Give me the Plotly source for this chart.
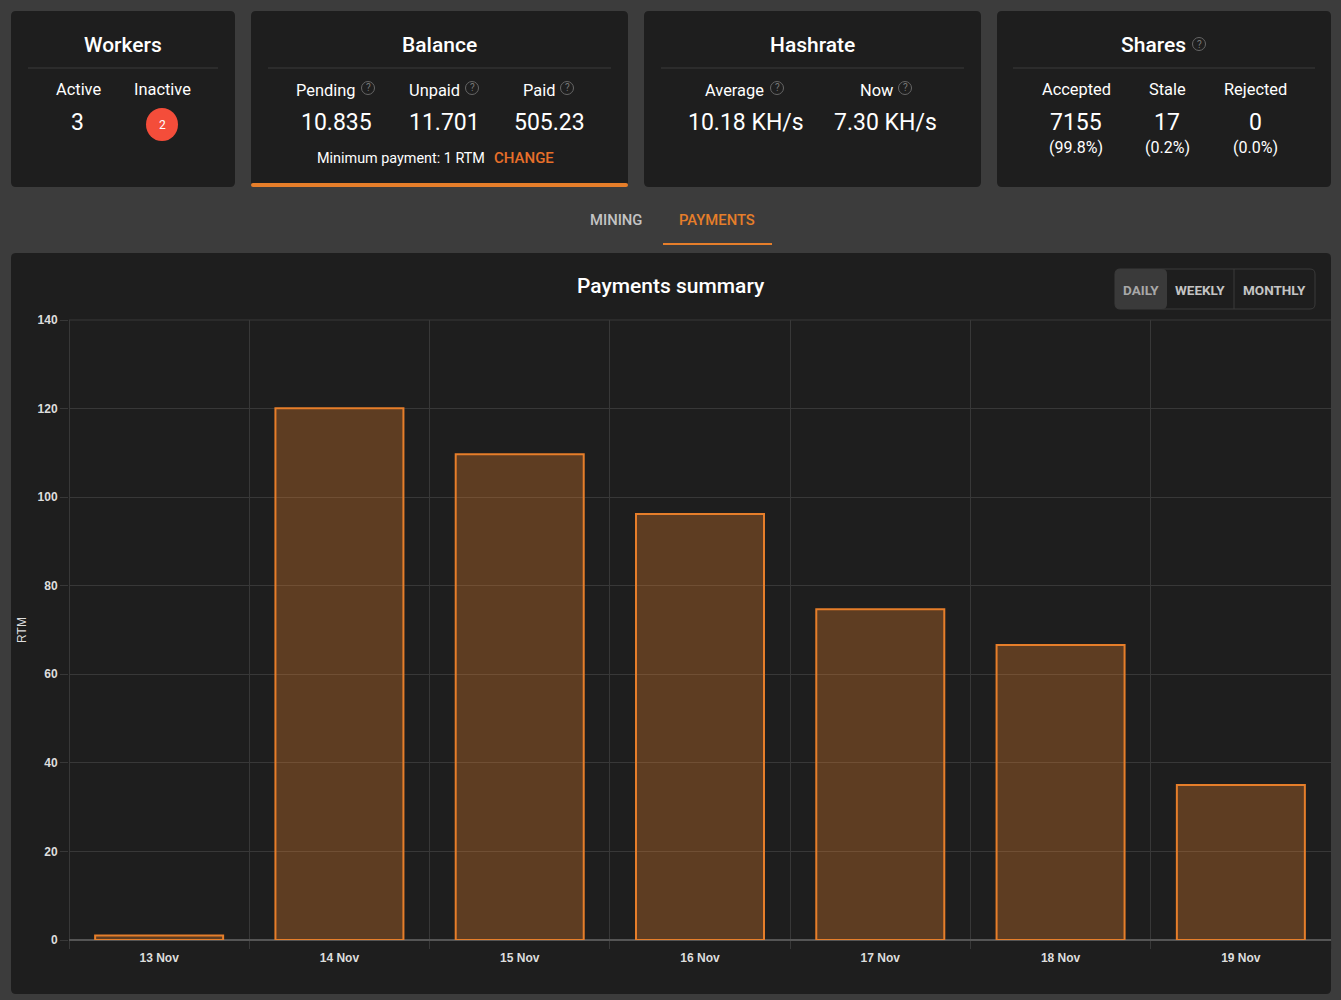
import plotly.graph_objects as go

W = 1341
H = 1000

days = ['13 Nov', '14 Nov', '15 Nov', '16 Nov', '17 Nov', '18 Nov', '19 Nov']
rtm = [1.0, 120.1, 109.7, 96.2, 74.7, 66.6, 35.0]
y_ticks = [0, 20, 40, 60, 80, 100, 120, 140]

ORANGE = '#e67e2a'
CARD = '#1e1e1e'
PAGE = '#3c3c3c'
RULE = '#3a3a3a'
GRID = '#383838'
FONT = 'Roboto'


def fx(x):
    return x / W


def fy(y):
    return 1 - y / H


def rounded(x0, y0, x1, y1, r=5):
    a, b, c, d = fx(x0), fy(y0), fx(x1), fy(y1)
    rx, ry = r / W, r / H
    return (f'M {a+rx},{b} L {c-rx},{b} Q {c},{b} {c},{b-ry} L {c},{d+ry} Q {c},{d} {c-rx},{d} '
            f'L {a+rx},{d} Q {a},{d} {a},{d+ry} L {a},{b-ry} Q {a},{b} {a+rx},{b} Z')


shapes = []
notes = []


def box(x0, y0, x1, y1, fill, r=5, line=None):
    shapes.append(dict(type='path', path=rounded(x0, y0, x1, y1, r), xref='paper', yref='paper',
                       fillcolor=fill, line=dict(color=line or fill, width=1 if line else 0), layer='below'))


def rule(x0, y0, x1, y1, color=RULE, width=1):
    shapes.append(dict(type='line', x0=fx(x0), x1=fx(x1), y0=fy(y0), y1=fy(y1), xref='paper', yref='paper',
                       line=dict(color=color, width=width), layer='below'))


def text(x, y, s, size=16.4, color='#ffffff', weight=400, family=FONT):
    notes.append(dict(text=s, x=fx(x), y=fy(y), xref='paper', yref='paper', showarrow=False,
                      xanchor='center', yanchor='middle',
                      font=dict(family=family, size=size, color=color, weight=weight)))


def help_icon(x, y):
    shapes.append(dict(type='circle', x0=fx(x - 6.5), x1=fx(x + 6.5), y0=fy(y - 6.5), y1=fy(y + 6.5),
                       xref='paper', yref='paper', line=dict(color='#666666', width=1), layer='below'))
    text(x, y, '?', size=10, color='#777777')


# cards
box(11, 11, 235, 187, CARD)
box(251, 11, 628, 187, CARD)
box(644, 11, 981, 187, CARD)
box(997, 11, 1331, 187, CARD)
box(251, 183, 628, 187, ORANGE, r=2)
box(11, 253, 1331, 994, CARD)
rule(28, 68, 218, 68)
rule(268, 68, 611, 68)
rule(661, 68, 964, 68)
rule(1013, 68, 1315, 68)

# workers
text(123, 45, 'Workers', 21, weight=500)
text(78, 89.5, 'Active')
text(162, 89.5, 'Inactive')
text(77, 122, '3', 23)
shapes.append(dict(type='circle', x0=fx(146), x1=fx(178), y0=fy(108), y1=fy(141), xref='paper', yref='paper',
                   fillcolor='#f44d3a', line=dict(width=0), layer='below'))
text(162, 125, '2', 12)

# balance
text(439.5, 45, 'Balance', 21, weight=500)
text(325.5, 90.5, 'Pending')
help_icon(368, 88)
text(434.5, 90.5, 'Unpaid')
help_icon(472, 88)
text(538.5, 90.5, 'Paid')
help_icon(567, 88)
text(336, 122, '10.835', 23)
text(445, 122, '11.701', 23)
text(549, 122, '505.23', 23)
text(401, 158, 'Minimum payment: 1 RTM', 14.4)
text(524, 158, 'CHANGE', 15, color='#e8702a', weight=500)

# hashrate
text(812.5, 45, 'Hashrate', 21, weight=500)
text(735, 90.5, 'Average')
help_icon(777, 88)
text(876, 90.5, 'Now')
help_icon(905, 88)
text(746, 122, '10.18 KH/s', 23)
text(886, 122, '7.30 KH/s', 23)

# shares
text(1153, 45, 'Shares', 21, weight=500)
help_icon(1199, 44)
text(1076, 89.5, 'Accepted')
text(1167, 89.5, 'Stale')
text(1255, 89.5, 'Rejected')
text(1076, 122, '7155', 23)
text(1167, 122, '17', 23)
text(1255, 122, '0', 23)
text(1076, 147, '(99.8%)', 16)
text(1167, 147, '(0.2%)', 16)
text(1255, 147, '(0.0%)', 16)

# tabs
text(616, 220, 'MINING', 14.8, color='#c4c4c4', weight=500)
text(717, 220, 'PAYMENTS', 14.8, color=ORANGE, weight=500)
rule(663, 244, 772, 244, color=ORANGE, width=2)

# chart header
text(671, 286, 'Payments summary', 21, weight=500)
box(1115, 269, 1315, 309, CARD, r=5, line='#3a3a3a')
box(1115, 269, 1167, 309, '#3a3a3a', r=5)
rule(1234, 269, 1234, 309)
text(1141, 289.5, 'DAILY', 13.5, color='#a8a8a8', weight=700)
text(1200, 289.5, 'WEEKLY', 13.5, color='#c4c4c4', weight=700)
text(1274, 289.5, 'MONTHLY', 13.5, color='#c4c4c4', weight=700)

# plot frame lines plotly leaves out at the axis edges
rule(69.5, 320, 69.5, 948, color=GRID)
rule(69, 320, 1331, 320, color=GRID)

fig = go.Figure(go.Bar(x=days, y=rtm, marker=dict(color='rgba(230,126,42,0.32)', line=dict(color=ORANGE, width=2))))

fig.update_layout(
    width=W, height=H, margin=dict(l=0, r=0, t=0, b=0, autoexpand=False),
    paper_bgcolor=PAGE, plot_bgcolor='rgba(0,0,0,0)',
    bargap=0.29, showlegend=False, shapes=shapes, annotations=notes,
    font=dict(family='Liberation Sans', color='#dddddd'),
)
fig.update_xaxes(domain=[fx(69), fx(1331)], type='category', tickson='boundaries', ticks='outside', ticklen=8,
                 ticklabelstandoff=9, automargin=False,
                 tickcolor=GRID, gridcolor=GRID, showgrid=True, showline=False, zeroline=False,
                 tickfont=dict(family='Liberation Sans', size=12, color='#dddddd', weight=700))
fig.update_yaxes(domain=[fy(940), fy(320)], range=[0, 140], tickvals=y_ticks, ticks='outside', ticklen=8,
                 automargin=False,
                 tickcolor=GRID, gridcolor=GRID, showline=False, zeroline=True, zerolinecolor='#555555',
                 tickfont=dict(family='Liberation Sans', size=12, color='#dddddd', weight=700),
                 title=dict(text='RTM', font=dict(family='Liberation Sans', size=12, color='#dddddd'), standoff=8))

fig.write_html("out.html", config={'displayModeBar': False},
               post_script="document.body.style.margin='0';document.body.style.background='#3c3c3c';")
